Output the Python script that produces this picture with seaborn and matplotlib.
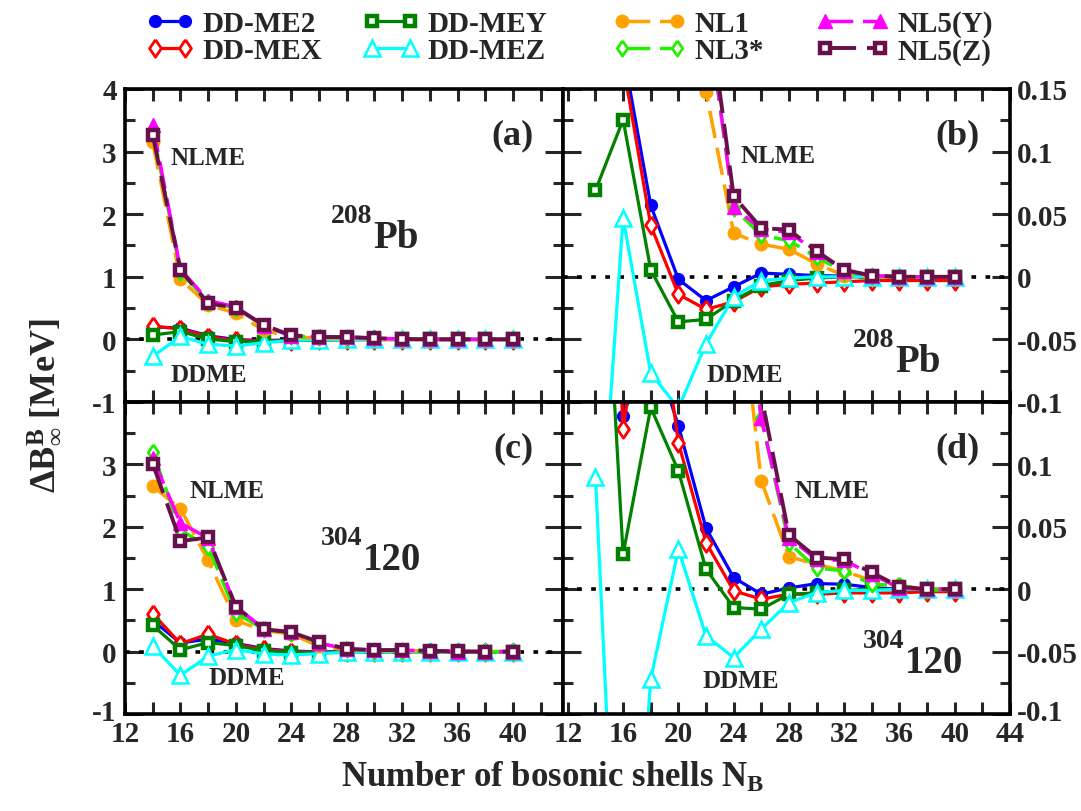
import matplotlib
matplotlib.use("Agg")
import matplotlib.pyplot as plt
from matplotlib.ticker import MultipleLocator, FuncFormatter
import matplotlib.transforms as mtransforms
import numpy as np
import pandas as pd
import seaborn as sns

# ---------------------------------------------------------------- data
NB = [14, 16, 18, 20, 22, 24, 26, 28, 30, 32, 34, 36, 38, 40]
MODELS = ["DD-ME2", "DD-MEX", "DD-MEY", "DD-MEZ", "NL1", "NL3*", "NL5(Y)", "NL5(Z)"]

# 208Pb, Delta B^B_inf [MeV]
pb_ddme2 = [0.20, 0.18, 0.057, -0.002, -0.019, -0.008, 0.003, 0.002, 0.001, 0.0005, 0.0, 0.0, 0.0, 0.0]
pb_ddmex = [0.21, 0.17, 0.041, -0.014, -0.026, -0.020, -0.008, -0.006, -0.005, -0.004, -0.003, -0.003, -0.003, -0.003]
pb_ddmey = [0.069, 0.1255, 0.0056, -0.036, -0.034, -0.019, -0.007, -0.003, -0.001, 0.0, 0.0, 0.0, 0.0, 0.0]
pb_ddmez = [-0.27, 0.047, -0.077, -0.105, -0.0535, -0.016, -0.003, -0.001, 0.0, 0.0, 0.0, 0.0, 0.0, 0.0]
pb_nl1 = [3.15, 0.96, 0.55, 0.42, 0.148, 0.035, 0.026, 0.022, 0.0104, 0.001, 0.0, 0.0, 0.0, 0.0]
pb_nl3s = [3.35, 1.08, 0.60, 0.50, 0.22, 0.055, 0.033, 0.029, 0.0157, 0.004, 0.001, 0.0, 0.0, 0.0]
pb_nl5y = [3.43, 1.12, 0.62, 0.52, 0.22, 0.0556, 0.038, 0.0356, 0.020, 0.005, 0.001, 0.0, 0.0, 0.0]
pb_nl5z = [3.27, 1.11, 0.575, 0.506, 0.23, 0.0644, 0.039, 0.0375, 0.0205, 0.0056, 0.001, 0.0, 0.0, 0.0]

# 304120, Delta B^B_inf [MeV]
sh_ddme2 = [0.50, 0.139, 0.20, 0.131, 0.049, 0.0093, -0.004, 0.001, 0.0045, 0.004, 0.0013, 0.0, 0.0, 0.0]
sh_ddmex = [0.61, 0.128, 0.28, 0.1175, 0.0374, -0.0013, -0.008, -0.004, -0.004, -0.003, -0.003, -0.003, -0.002, -0.002]
sh_ddmey = [0.42, 0.028, 0.1456, 0.0948, 0.016, -0.0147, -0.016, -0.004, -0.003, -0.001, 0.0, 0.0, 0.0, 0.0]
sh_ddmez = [0.09, -0.38, -0.072, 0.032, -0.0374, -0.0548, -0.032, -0.0107, -0.0027, -0.001, -0.001, 0.0, 0.0, 0.0]
sh_nl1 = [2.65, 2.29, 1.46, 0.50, 0.34, 0.28, 0.0868, 0.026, 0.020, 0.0147, 0.0067, 0.003, 0.0, 0.0]
sh_nl3s = [3.20, 1.95, 1.68, 0.62, 0.36, 0.30, 0.137, 0.037, 0.017, 0.0147, 0.004, 0.003, -0.001, 0.0]
sh_nl5y = [3.10, 2.06, 1.82, 0.72, 0.37, 0.31, 0.137, 0.041, 0.024, 0.023, 0.012, 0.001, 0.0, 0.0]
sh_nl5z = [3.01, 1.77, 1.83, 0.72, 0.36, 0.31, 0.155, 0.0435, 0.0254, 0.024, 0.0134, 0.002, 0.0, 0.0]

pb_data = dict(zip(MODELS, [pb_ddme2, pb_ddmex, pb_ddmey, pb_ddmez, pb_nl1, pb_nl3s, pb_nl5y, pb_nl5z]))
sh_data = dict(zip(MODELS, [sh_ddme2, sh_ddmex, sh_ddmey, sh_ddmez, sh_nl1, sh_nl3s, sh_nl5y, sh_nl5z]))

# ---------------------------------------------------------------- style
sns.set_theme(style="white")
plt.rcParams.update({
    "font.family": ["Liberation Serif", "DejaVu Serif"],
    "font.weight": "bold",
    "axes.unicode_minus": False,
    "mathtext.fontset": "custom",
    "mathtext.rm": "Liberation Serif:bold",
    "mathtext.it": "Liberation Serif:italic:bold",
    "mathtext.bf": "Liberation Serif:bold",
    "mathtext.default": "rm",
    "axes.linewidth": 2.6,
    "axes.edgecolor": "black",
})

# thin (tall) diamond marker
tall_diamond = [(0, 1), (0.68, 0), (0, -1), (-0.68, 0), (0, 1)]

dash = (0, (8.0, 2.8))
STY = {
    "DD-ME2": dict(color="#0000ff", marker="o", ms=8.5, mfc="#0000ff", mew=1.0, ls="-", lw=2.3),
    "DD-MEX": dict(color="#ff0000", marker=tall_diamond, ms=12.5, mfc="white", mew=2.0, ls="-", lw=2.3),
    "DD-MEY": dict(color="#008200", marker="s", ms=7.4, mfc="white", mew=3.2, ls="-", lw=2.3),
    "DD-MEZ": dict(color="#00ffff", marker="^", ms=11.5, mfc="white", mew=1.8, ls="-", lw=2.3),
    "NL1": dict(color="#ffa200", marker="o", ms=9.0, mfc="#ffa200", mew=1.0, ls=dash, lw=2.5),
    "NL3*": dict(color="#22f000", marker=tall_diamond, ms=11.0, mfc="white", mew=2.0, ls=dash, lw=2.5),
    "NL5(Y)": dict(color="#ff00ff", marker="^", ms=10.5, mfc="#ff00ff", mew=1.0, ls=dash, lw=2.5),
    "NL5(Z)": dict(color="#68104c", marker="s", ms=7.2, mfc="white", mew=3.2, ls=dash, lw=2.8),
}

W, H = 1081, 812
fig = plt.figure(figsize=(W / 100, H / 100), dpi=100)


def frac_rect(x0, y0, x1, y1):
    return [x0 / W, 1 - y1 / H, (x1 - x0) / W, (y1 - y0) / H]


ax_a = fig.add_axes(frac_rect(125, 90, 563, 403))
ax_b = fig.add_axes(frac_rect(563, 90, 1010, 403))
ax_c = fig.add_axes(frac_rect(125, 403, 563, 715))
ax_d = fig.add_axes(frac_rect(563, 403, 1010, 715))

handles = {}


def draw_panel(ax, data, keep_handles=False):
    ax.axhline(0, color="black", lw=2.6, ls=(0, (1.3, 2.6)), zorder=1.2)
    for name in MODELS:
        df = pd.DataFrame({"NB": NB, "dB": data[name]})
        s = STY[name]
        sns.lineplot(data=df, x="NB", y="dB", ax=ax, errorbar=None,
                     color=s["color"], linestyle=s["ls"], linewidth=s["lw"],
                     marker=s["marker"], markersize=s["ms"],
                     markerfacecolor=s["mfc"], markeredgecolor=s["color"],
                     markeredgewidth=s["mew"], label=name, legend=False)
        if keep_handles:
            handles[name] = ax.lines[-1]
    ax.set_xlabel("")
    ax.set_ylabel("")


draw_panel(ax_a, pb_data, keep_handles=True)
draw_panel(ax_b, pb_data)
draw_panel(ax_c, sh_data)
draw_panel(ax_d, sh_data)


def fmt_hide(hidden):
    def f(v, pos):
        if any(abs(v - h) < 1e-9 for h in hidden):
            return ""
        return "%g" % round(v, 4)
    return FuncFormatter(f)


def setup(ax, xlim, ylim, ymaj, ymin, yside, show_x, hide_y=()):
    ax.set_xlim(*xlim)
    ax.set_ylim(*ylim)
    ax.xaxis.set_major_locator(MultipleLocator(4))
    ax.xaxis.set_minor_locator(MultipleLocator(2))
    ax.yaxis.set_major_locator(MultipleLocator(ymaj))
    ax.yaxis.set_minor_locator(MultipleLocator(ymin))
    ax.xaxis.set_major_formatter(FuncFormatter(lambda v, p: "%d" % round(v)))
    ax.yaxis.set_major_formatter(fmt_hide(hide_y))
    ax.tick_params(axis="both", which="both", direction="in", top=True, bottom=True,
                   left=True, right=True, width=2.2, labelsize=21)
    ax.tick_params(axis="x", which="both", length=8.5, pad=4, labelbottom=show_x)
    ax.tick_params(axis="y", which="major", length=13)
    ax.tick_params(axis="y", which="minor", length=7)
    if yside == "left":
        ax.tick_params(axis="y", labelleft=True, labelright=False, pad=6)
    else:
        ax.tick_params(axis="y", labelleft=False, labelright=True, pad=5)
    for sp in ax.spines.values():
        sp.set_linewidth(2.6)
        sp.set_color("black")
        sp.set_zorder(5)


setup(ax_a, (12, 43.6), (-1, 4), 1, 0.5, "left", False)
setup(ax_c, (12, 43.6), (-1, 4), 1, 0.5, "left", True, hide_y=(4, -1))
setup(ax_b, (11.65, 44), (-0.1, 0.15), 0.05, 0.025, "right", False)
setup(ax_d, (11.65, 44), (-0.1, 0.15), 0.05, 0.025, "right", True, hide_y=(0.15, -0.1))

# lowest y labels sit just above the bottom corner, clear of the x labels
ax_c.annotate("-1", xy=(0, -1), xycoords=mtransforms.blended_transform_factory(ax_c.transAxes, ax_c.transData),
              xytext=(-6, -4), textcoords="offset points", fontsize=21, ha="right", va="baseline")
ax_d.annotate("-0.1", xy=(1, -0.1), xycoords=mtransforms.blended_transform_factory(ax_d.transAxes, ax_d.transData),
              xytext=(5, -4), textcoords="offset points", fontsize=21, ha="left", va="baseline")


def annotate_panel(ax, tag, nlme, ddme, nuc_xy, mass, elem):
    ax.text(0.933, 0.905, tag, transform=ax.transAxes, fontsize=26, ha="right", va="top")
    ax.text(nlme[0], nlme[1], "NLME", transform=ax.transAxes, fontsize=18, ha="left", va="baseline")
    ax.text(ddme[0], ddme[1], "DDME", transform=ax.transAxes, fontsize=18, ha="left", va="baseline")
    ax.text(nuc_xy[0], nuc_xy[1], elem, transform=ax.transAxes, fontsize=28, ha="left", va="baseline")
    ax.annotate(mass, xy=nuc_xy, xycoords="axes fraction", xytext=(-0.5, 18),
                textcoords="offset points", fontsize=20, ha="right", va="baseline")


annotate_panel(ax_a, "(a)", (0.103, 0.760), (0.103, 0.067), (0.566, 0.495), "208", "Pb")
annotate_panel(ax_b, "(b)", (0.396, 0.767), (0.322, 0.067), (0.743, 0.099), "208", "Pb")
annotate_panel(ax_c, "(c)", (0.148, 0.696), (0.190, 0.096), (0.543, 0.465), "304", "120")
annotate_panel(ax_d, "(d)", (0.519, 0.696), (0.311, 0.087), (0.765, 0.135), "304", "120")

# axis titles
fig.text(43 / W, 0.5, r"$\Delta B^{B}_{\infty}$ [MeV]", rotation=90, ha="center", va="center", fontsize=26)
fig.text(553 / W, 1 - 778 / H, r"Number of bosonic shells $N_{B}$", ha="center", va="center", fontsize=25)

# legend: four columns of two entries
columns = [(["DD-ME2", "DD-MEX"], 146, 1.65),
           (["DD-MEY", "DD-MEZ"], 363, 1.9),
           (["NL1", "NL3*"], 613, 2.5),
           (["NL5(Y)", "NL5(Z)"], 816, 2.5)]
for names, x0, hl in columns:
    fig.legend([handles[n] for n in names], names, loc="upper left",
               bbox_to_anchor=(x0 / W, 1 - 11 / H), frameon=False, fontsize=21,
               handlelength=hl, handletextpad=0.3, borderpad=0, borderaxespad=0,
               labelspacing=0.0, numpoints=2)

fig.savefig("out.png", dpi=100)
